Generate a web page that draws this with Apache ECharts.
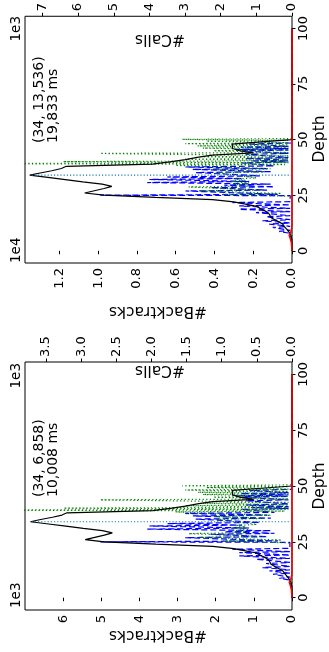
<!DOCTYPE html>
<html>
<head>
<meta charset="utf-8">
<script src="https://cdn.jsdelivr.net/npm/echarts@6/dist/echarts.min.js"></script>
<style>
  html, body { margin: 0; padding: 0; background: #fff; }
  #chart { width: 329px; height: 652px; }
</style>
</head>
<body>
<div id="chart"></div>
<script>
// depth of every black-line point
const depths = [0, 1, 2, 3, 4, 5, 6, 7, 8, 9, 10, 11, 12, 13, 14, 15, 16, 17, 18, 19, 20,
  21, 22, 23, 24, 25, 26, 27, 28, 29, 30, 31, 32, 33, 34, 35, 36, 37, 38, 39, 40,
  41, 42, 43, 44, 45, 46, 47, 48, 49, 50, 100]

// #Backtracks, top panel (x1e4)
const backtracksTop = [0, 0, 0, 0, 0, 0.001, 0.003, 0.006, 0.012, 0.02, 0.03,
  0.04, 0.048, 0.068, 0.089, 0.109, 0.114, 0.122, 0.14, 0.163, 0.183,
  0.24, 0.3, 0.41, 0.705, 0.97, 1.07, 1.02, 0.97, 0.93, 0.98,
  1.08, 1.17, 1.26, 1.3536, 1.3, 1.24, 1.19, 1.165, 0.72, 0.63,
  0.55, 0.49, 0.41, 0.2, 0.27, 0.307, 0.307, 0.31, 0.16, 0, 0]

// #Backtracks, bottom panel (x1e3)
const backtracksBottom = [0, 0, 0, 0, 0, 0.005, 0.015, 0.03, 0.06, 0.1, 0.15,
  0.2, 0.24, 0.34, 0.45, 0.55, 0.58, 0.62, 0.71, 0.83, 0.93,
  1.22, 1.52, 2.08, 3.57, 4.92, 5.42, 5.17, 4.92, 4.71, 4.97,
  5.47, 5.93, 6.38, 6.858, 6.59, 6.28, 6.03, 5.9, 3.65, 3.19,
  2.79, 2.48, 2.08, 1.01, 1.37, 1.56, 1.56, 1.57, 0.81, 0, 0]

// [depth, #Calls] blue dashed, top panel (x1e3)
const blueTop = [[0, 0], [6, 0.03], [8, 0.1], [8.7, 0.36], [9.2, 0.05], [10.5, 0.54], [11, 0.05],
  [12, 0.64], [12.5, 0.05], [13.5, 0.83], [14, 0.05], [15.3, 0.73], [15.8, 0.05], [17.2, 1.01],
  [17.6, 0.05], [18.7, 1.48], [19.1, 0.05], [20.2, 1.48], [20.6, 0.05], [21.7, 1.67], [22.1, 0.05],
  [24.8, 0.05], [25, 5.38], [25.4, 0.4], [26.9, 2.99], [27.3, 0.7], [28.4, 2.28], [28.8, 0.5],
  [29.5, 1.9], [30, 0.6], [30.7, 4.06], [31.2, 1.2], [32.1, 4.0], [32.5, 1.4], [33.2, 3.5],
  [33.7, 0.9], [35.2, 2.7], [35.6, 0.6], [36.6, 2.79], [37, 0.7], [37.7, 2.99], [38.2, 0.5],
  [39.5, 1.4], [40, 0.1], [40.4, 1.15], [40.8, 0.1], [41.5, 1.3], [42, 0.1], [43.4, 1.3],
  [43.8, 0.1], [45, 1.4], [45.3, 0.1], [45.6, 1.58], [46, 0.1], [46.6, 1.44], [47, 0.1],
  [48, 1.2], [48.5, 0], [100, 0]]

// [depth, #Calls] blue dashed, bottom panel (x1e3)
const blueBottom = [[0, 0], [6, 0.015], [8, 0.05], [8.7, 0.18], [9.2, 0.03], [10.5, 0.27], [11, 0.03],
  [12, 0.32], [12.5, 0.03], [13.5, 0.42], [14, 0.03], [15.3, 0.37], [15.8, 0.03], [17.2, 0.51],
  [17.6, 0.03], [18.7, 0.75], [19.1, 0.03], [20.2, 0.75], [20.6, 0.03], [21.7, 0.85], [22.1, 0.03],
  [24.8, 0.03], [25, 2.73], [25.4, 0.2], [26.9, 1.52], [27.3, 0.35], [28.4, 1.16], [28.8, 0.25],
  [29.5, 0.96], [30, 0.3], [30.7, 2.06], [31.2, 0.61], [32.1, 2.03], [32.5, 0.71], [33.2, 1.77],
  [33.7, 0.46], [35.2, 1.37], [35.6, 0.3], [36.6, 1.41], [37, 0.35], [37.7, 1.52], [38.2, 0.25],
  [39.5, 0.71], [40, 0.05], [40.4, 0.58], [40.8, 0.05], [41.5, 0.66], [42, 0.05], [43.4, 0.66],
  [43.8, 0.05], [45, 0.71], [45.3, 0.05], [45.6, 0.8], [46, 0.05], [46.6, 0.73], [47, 0.05],
  [48, 0.61], [48.5, 0], [100, 0]]

// [depth, #Calls] green dotted, top panel (x1e3)
const greenTop = [[0, 0], [24.5, 0], [25.4, 1.94], [25.8, 0.3], [27, 2.6], [27.4, 0.8], [28.7, 2.9],
  [29.1, 1.2], [30, 1.66], [30.5, 1.2], [31.2, 1.7], [31.7, 1.3], [32.3, 1.6], [32.8, 1.0],
  [35, 2.14], [35.5, 0.8], [36.4, 2.2], [36.9, 0.6], [38.4, 3.27], [38.8, 0.2], [39.2, 9.5],
  [39.6, 0.1], [40.1, 6.42], [40.5, 0.1], [41.2, 3.0], [41.6, 0.1], [42.3, 2.5], [42.7, 0.1],
  [43.8, 5.38], [44.2, 0.1], [45, 2.2], [45.4, 0.1], [46.2, 2.5], [46.6, 0.1], [47.2, 2.65],
  [47.6, 0.1], [48.2, 2.99], [48.6, 0.1], [49.3, 2.4], [49.7, 0.1], [50.1, 3.08], [50.5, 0], [100, 0]]

// [depth, #Calls] green dotted, bottom panel (x1e3)
const greenBottom = [[0, 0], [24.5, 0], [25.4, 0.98], [25.8, 0.15], [27, 1.32], [27.4, 0.41], [28.7, 1.47],
  [29.1, 0.61], [30, 0.84], [30.5, 0.61], [31.2, 0.86], [31.7, 0.66], [32.3, 0.81], [32.8, 0.5],
  [35, 1.08], [35.5, 0.41], [36.4, 1.12], [36.9, 0.3], [38.4, 1.66], [38.8, 0.1], [39.2, 4.8],
  [39.6, 0.05], [40.1, 3.25], [40.5, 0.05], [41.2, 1.52], [41.6, 0.05], [42.3, 1.27], [42.7, 0.05],
  [43.8, 2.73], [44.2, 0.05], [45, 1.12], [45.4, 0.05], [46.2, 1.27], [46.6, 0.05], [47.2, 1.34],
  [47.6, 0.05], [48.2, 1.52], [48.6, 0.05], [49.3, 1.22], [49.7, 0.05], [50.1, 1.56], [50.5, 0], [100, 0]]

// [depth, #Calls] red solid
const redTop = [[0, 0], [4, 0.02], [6, 0.06], [7, 0.08], [8, 0.04], [10, 0.01], [12, 0], [100, 0]]
const redBottom = [[0, 0], [4, 0.01], [6, 0.03], [7, 0.04], [8, 0.02], [10, 0.005], [12, 0], [100, 0]]

// peak [depth, backtracks]
const peakTop = [34, 1.3536]
const peakBottom = [34, 6.858]

const depthTicks = [0, 25, 50, 75, 100]
const btTicksTop = [0, 0.2, 0.4, 0.6, 0.8, 1.0, 1.2]
const btTicksBottom = [0, 1, 2, 3, 4, 5, 6]
const callTicksTop = [0, 1, 2, 3, 4, 5, 6, 7]
const callTicksBottom = [0, 0.5, 1.0, 1.5, 2.0, 2.5, 3.0, 3.5]

const FONT = 'DejaVu Sans'
const chart = echarts.init(document.getElementById('chart'))

// echarts flips the label rotation on a top axis, hence -90 there
const valueAxis = (gridIndex, position, max, ticks, digits) => ({
  type: 'value',
  gridIndex,
  position,
  inverse: true,
  min: 0,
  max,
  axisLine: { show: false },
  splitLine: { show: false },
  axisTick: { show: true, length: 3.5, customValues: ticks, lineStyle: { color: '#000', width: 1 } },
  axisLabel: {
    rotate: position === 'top' ? -90 : 90,
    margin: 5,
    fontFamily: FONT,
    fontSize: 13,
    color: '#000',
    customValues: ticks,
    formatter: (v) => v.toFixed(digits)
  }
})

const depthAxis = (gridIndex) => ({
  type: 'value',
  gridIndex,
  position: 'right',
  min: -5.5,
  max: 105.5,
  axisLine: { show: false },
  splitLine: { show: false },
  axisTick: { show: true, length: 3.5, customValues: depthTicks, lineStyle: { color: '#000', width: 1 } },
  axisLabel: {
    rotate: 90,
    margin: 5,
    fontFamily: FONT,
    fontSize: 13,
    color: '#000',
    customValues: depthTicks
  }
})

const flip = (pairs) => pairs.map((p) => [p[1], p[0]])

const panelSeries = (bt, blue, green, red, peak, btAxis, callAxis, yAxis) => [
  {
    type: 'line', xAxisIndex: callAxis, yAxisIndex: yAxis, showSymbol: false, silent: true,
    lineStyle: { color: '#0000ff', width: 1.2, type: [6, 3] },
    data: flip(blue), z: 2
  },
  {
    type: 'line', xAxisIndex: callAxis, yAxisIndex: yAxis, showSymbol: false, silent: true,
    lineStyle: { color: '#008000', width: 1.2, type: [1.2, 2.4] },
    data: flip(green), z: 3
  },
  {
    type: 'line', xAxisIndex: btAxis, yAxisIndex: yAxis, showSymbol: false, silent: true,
    lineStyle: { color: '#000', width: 1.2 },
    data: depths.map((d, i) => [bt[i], d]), z: 4
  },
  {
    type: 'line', xAxisIndex: btAxis, yAxisIndex: yAxis, showSymbol: false, silent: true,
    lineStyle: { color: '#1f77b4', width: 1.2, type: [1.2, 2] },
    data: [[0, peak[0]], [peak[1], peak[0]]], z: 4
  },
  {
    type: 'line', xAxisIndex: callAxis, yAxisIndex: yAxis, showSymbol: false, silent: true,
    lineStyle: { color: '#ff0000', width: 1.5 },
    data: flip(red), z: 5
  }
]

const vText = (x, y, text, align, size) => ({
  type: 'text', x, y, rotation: Math.PI / 2, silent: true,
  style: { text, x: 0, y: 0, align, verticalAlign: 'middle', font: size + 'px "' + FONT + '"', fill: '#000' }
})
const flipText = (x, y, text, size) => ({
  type: 'text', x, y, rotation: Math.PI, silent: true,
  style: { text, x: 0, y: 0, align: 'center', verticalAlign: 'middle', font: size + 'px "' + FONT + '"', fill: '#000' }
})

chart.setOption({
  animation: false,
  backgroundColor: '#fff',
  grid: [
    { left: 25, top: 15, width: 267, height: 248, show: true, borderColor: '#000', borderWidth: 1 },
    { left: 25, top: 362, width: 267, height: 248, show: true, borderColor: '#000', borderWidth: 1 }
  ],
  xAxis: [
    valueAxis(0, 'bottom', 1.378, btTicksTop, 1),
    valueAxis(0, 'top', 7.49, callTicksTop, 0),
    valueAxis(1, 'bottom', 7.0, btTicksBottom, 0),
    valueAxis(1, 'top', 3.8, callTicksBottom, 1)
  ],
  yAxis: [depthAxis(0), depthAxis(1)],
  series: [
    ...panelSeries(backtracksTop, blueTop, greenTop, redTop, peakTop, 0, 1, 0),
    ...panelSeries(backtracksBottom, blueBottom, greenBottom, redBottom, peakBottom, 2, 3, 1)
  ],
  graphic: [
    // top panel
    vText(16, 263, '1e4', 'left', 13.5),
    vText(16, 16, '1e3', 'right', 13.5),
    flipText(160, 39.5, '#Calls', 15.5),
    flipText(158, 311, '#Backtracks', 15.5),
    vText(320, 139, 'Depth', 'center', 15.5),
    vText(39.5, 143, '(34, 13,536)', 'left', 14),
    vText(53, 143, '19,833 ms', 'left', 14),
    // bottom panel
    vText(16, 608, '1e3', 'left', 13.5),
    vText(16, 363, '1e3', 'right', 13.5),
    flipText(160, 370.5, '#Calls', 15.5),
    flipText(158, 635.5, '#Backtracks', 15.5),
    vText(320, 486, 'Depth', 'center', 15.5),
    vText(39.5, 497, '(34, 6,858)', 'left', 14),
    vText(53, 497, '10,008 ms', 'left', 14)
  ]
})
</script>
</body>
</html>
